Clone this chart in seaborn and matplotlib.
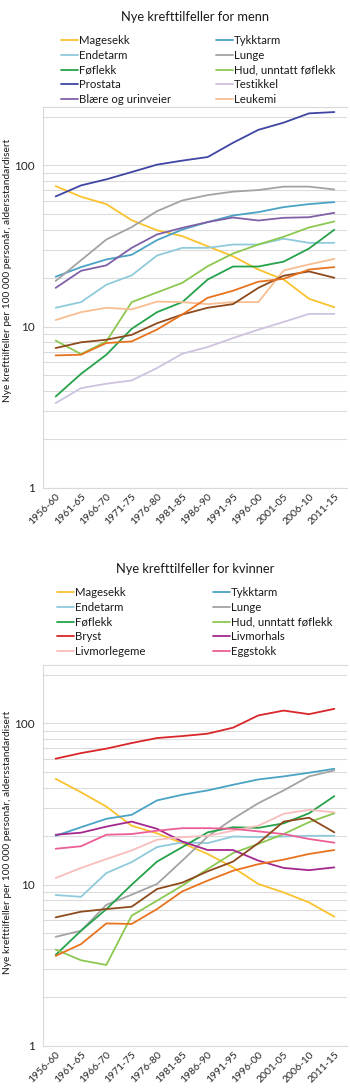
import numpy as np
import pandas as pd
import matplotlib
matplotlib.use("Agg")
import matplotlib.pyplot as plt
from matplotlib.ticker import LogLocator, NullFormatter, FixedLocator, FixedFormatter
from matplotlib.lines import Line2D
import seaborn as sns

periods = ["1956-60", "1961-65", "1966-70", "1971-75", "1976-80", "1981-85",
           "1986-90", "1991-95", "1996-00", "2001-05", "2006-10", "2011-15"]

# ---- Menn ----
menn_magesekk = [74.4, 63.9, 57.5, 45.7, 39.6, 36.4, 31.5, 27.3, 22.6, 19.6, 14.9, 13.2]
menn_tykktarm = [20.4, 23.4, 26.1, 27.9, 34.4, 40.0, 44.5, 48.9, 51.3, 55.1, 57.5, 59.2]
menn_endetarm = [13.1, 14.2, 18.2, 20.8, 27.6, 30.8, 30.8, 32.3, 32.3, 35.1, 33.1, 33.1]
menn_lunge = [19.2, 25.8, 34.7, 41.4, 52.0, 60.6, 65.4, 68.7, 70.3, 73.8, 73.8, 70.9]
menn_foflekk = [3.69, 5.1, 6.7, 9.7, 12.3, 14.2, 19.6, 23.6, 23.6, 25.3, 30.5, 39.9]
menn_hud = [8.2, 6.76, 8.1, 14.2, 16.3, 18.7, 23.7, 28.4, 32.3, 36.1, 41.2, 44.9]
menn_prostata = [64.2, 75.1, 81.9, 90.9, 101, 107, 112.6, 138, 166, 184, 210, 214]
menn_testikkel = [3.36, 4.16, 4.43, 4.64, 5.54, 6.8, 7.48, 8.5, 9.58, 10.7, 12.0, 12.0]
menn_blaere = [17.4, 22.2, 24.0, 30.8, 37.3, 41.0, 44.5, 47.5, 45.5, 47.3, 47.7, 50.8]
menn_leukemi = [11.0, 12.3, 13.1, 12.8, 14.3, 14.2, 13.8, 14.2, 14.2, 22.3, 24.3, 26.3]
menn_brun_serie = [7.37, 8.0, 8.3, 8.9, 10.5, 11.9, 13.1, 13.8, 17.4, 20.7, 22.0, 20.1]
menn_oransje_serie = [6.64, 6.7, 7.92, 8.1, 9.6, 11.9, 15.1, 16.7, 19.0, 19.8, 22.6, 23.4]

# ---- Kvinner ----
kv_magesekk = [45.3, 37.4, 30.5, 23.2, 20.8, 18.1, 15.5, 12.8, 10.1, 8.95, 7.76, 6.33]
kv_tykktarm = [20.1, 22.7, 25.6, 27.1, 33.3, 36.1, 38.4, 41.6, 44.9, 46.9, 49.4, 52.3]
kv_endetarm = [8.63, 8.41, 11.8, 13.8, 17.1, 18.3, 18.1, 19.9, 19.7, 19.9, 20.1, 20.1]
kv_lunge = [4.75, 5.18, 7.5, 8.67, 10.1, 14.1, 19.9, 25.6, 32.0, 38.4, 46.9, 51.1]
kv_foflekk = [3.67, 5.18, 7.05, 10.0, 13.9, 17.1, 21.1, 22.7, 22.5, 24.0, 27.7, 35.4]
kv_hud = [3.96, 3.40, 3.18, 6.42, 7.96, 9.86, 12.5, 15.7, 17.9, 20.6, 24.4, 27.7]
kv_bryst = [60.4, 65.4, 69.7, 75.5, 81.1, 83.4, 86.3, 94.0, 112, 120, 114, 123]
kv_livmorhals = [20.4, 21.0, 22.9, 24.6, 22.2, 18.5, 16.4, 16.4, 14.1, 12.7, 12.3, 12.8]
kv_livmorlegeme = [11.0, 12.7, 14.4, 16.3, 19.0, 19.7, 20.1, 21.6, 23.2, 27.5, 29.1, 28.1]
kv_eggstokk = [16.7, 17.3, 20.4, 20.6, 21.6, 22.4, 22.4, 22.2, 21.4, 20.6, 19.2, 18.2]
kv_brun_serie = [6.27, 6.8, 7.06, 7.3, 9.4, 10.3, 12.1, 13.9, 18.1, 24.6, 26.0, 21.1]
kv_oransje_serie = [3.62, 4.28, 5.75, 5.71, 7.06, 9.09, 10.6, 12.2, 13.4, 14.3, 15.5, 16.4]

men_series = {
    "Magesekk": (menn_magesekk, "#F9C22E"),
    "Tykktarm": (menn_tykktarm, "#4AA3C4"),
    "Endetarm": (menn_endetarm, "#8FCADB"),
    "Lunge": (menn_lunge, "#A3A3A3"),
    "Føflekk": (menn_foflekk, "#25A24A"),
    "Hud, unntatt føflekk": (menn_hud, "#8CC850"),
    "Prostata": (menn_prostata, "#3F45A3"),
    "Testikkel": (menn_testikkel, "#CDC2E0"),
    "Blære og urinveier": (menn_blaere, "#8061A8"),
    "Leukemi": (menn_leukemi, "#F8BE92"),
    "_brun": (menn_brun_serie, "#8E4A1C"),
    "_oransje": (menn_oransje_serie, "#E8731F"),
}
men_legend_cols = [["Magesekk", "Endetarm", "Føflekk", "Prostata", "Blære og urinveier"],
                   ["Tykktarm", "Lunge", "Hud, unntatt føflekk", "Testikkel", "Leukemi"]]

women_series = {
    "Magesekk": (kv_magesekk, "#F9C22E"),
    "Tykktarm": (kv_tykktarm, "#4AA3C4"),
    "Endetarm": (kv_endetarm, "#8FCADB"),
    "Lunge": (kv_lunge, "#A3A3A3"),
    "Føflekk": (kv_foflekk, "#25A24A"),
    "Hud, unntatt føflekk": (kv_hud, "#8CC850"),
    "Bryst": (kv_bryst, "#D9262A"),
    "Livmorhals": (kv_livmorhals, "#A4288F"),
    "Livmorlegeme": (kv_livmorlegeme, "#F8BDBD"),
    "Eggstokk": (kv_eggstokk, "#EC5E96"),
    "_brun": (kv_brun_serie, "#8E4A1C"),
    "_oransje": (kv_oransje_serie, "#E8731F"),
}
women_legend_cols = [["Magesekk", "Endetarm", "Føflekk", "Bryst", "Livmorlegeme"],
                     ["Tykktarm", "Lunge", "Hud, unntatt føflekk", "Livmorhals", "Eggstokk"]]

sns.set_theme(style="white")
plt.rcParams['font.family'] = ['Lato', 'DejaVu Sans']

W, H = 350, 1088
fig = plt.figure(figsize=(W / 100, H / 100), dpi=100)

ylabel = "Nye krefttilfeller per 100 000 personår, aldersstandardisert"


def draw_panel(series, legend_cols, legend_x_px, title, top_px, title_px,
               legend_top_px, ylab_center_px):
    ax_left, ax_right = 43, 347
    ax_top, ax_bot = top_px, top_px + 381
    ax = fig.add_axes([ax_left / W, 1 - ax_bot / H, (ax_right - ax_left) / W, (ax_bot - ax_top) / H])
    rows = []
    for name, (vals, col) in series.items():
        for p, v in zip(periods, vals):
            rows.append({"periode": p, "verdi": v, "serie": name})
    df = pd.DataFrame(rows)
    palette = {name: col for name, (vals, col) in series.items()}
    sns.lineplot(data=df, x="periode", y="verdi", hue="serie", palette=palette,
                 hue_order=list(series.keys()), linewidth=1.3, ax=ax, legend=False,
                 sort=False)
    ax.set_yscale("log")
    ax.set_ylim(1, 230)
    ax.set_xlim(-0.5, len(periods) - 0.5)
    ax.yaxis.set_major_locator(FixedLocator([1, 10, 100]))
    ax.yaxis.set_major_formatter(FixedFormatter(["1", "10", "100"]))
    ax.yaxis.set_minor_locator(LogLocator(base=10, subs=np.arange(2, 10)))
    ax.yaxis.set_minor_formatter(NullFormatter())
    ax.grid(True, axis="y", which="both", color="#DCDCDC", linewidth=0.8)
    ax.grid(False, axis="x")
    ax.set_axisbelow(True)
    ax.set_xlabel("")
    ax.set_ylabel("")
    ax.set_xticks(range(len(periods)))
    ax.set_xticklabels(periods, rotation=45, ha="right", rotation_mode="anchor",
                       fontsize=7.5, color="#262626")
    ax.tick_params(axis="both", length=0, pad=3)
    ax.tick_params(axis="y", labelsize=8.5, colors="#262626", pad=6)
    for s in ["left", "top", "bottom"]:
        ax.spines[s].set_visible(True)
        ax.spines[s].set_color("#D9D9D9")
        ax.spines[s].set_linewidth(0.8)
    ax.spines["right"].set_visible(False)

    fig.text(195 / W, 1 - title_px / H, title, ha="center", va="center",
             fontsize=9.3, color="#1a1a1a")
    fig.text(8 / W, 1 - ylab_center_px / H, ylabel, rotation=90, ha="center",
             va="center", fontsize=7.3, color="#1a1a1a")

    for names, lx in zip(legend_cols, legend_x_px):
        handles = [Line2D([0], [0], color=series[n][1], lw=1.3) for n in names]
        fig.legend(handles, names, loc="upper left",
                   bbox_to_anchor=(lx / W, 1 - legend_top_px / H), ncol=1, frameon=False,
                   fontsize=8.2, handlelength=1.45, handletextpad=0.12,
                   labelspacing=0.33, borderpad=0, borderaxespad=0,
                   labelcolor="#1a1a1a")
    return ax


draw_panel(men_series, men_legend_cols, [61, 216], "Nye krefttilfeller for menn",
           107, 17, 35, 270)
draw_panel(women_series, women_legend_cols, [57, 213], "Nye krefttilfeller for kvinner",
           665, 569, 587, 842)

fig.savefig("out.png", dpi=100)
